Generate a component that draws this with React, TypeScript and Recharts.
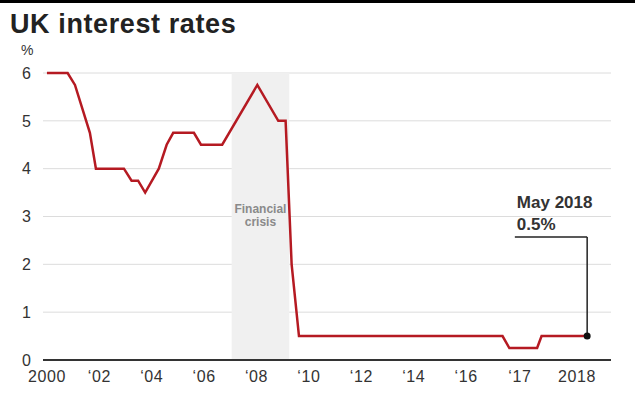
import React from "react";
import {
  LineChart,
  Line,
  XAxis,
  YAxis,
  CartesianGrid,
  ReferenceArea,
  ReferenceLine,
  ReferenceDot,
} from "recharts";

const ratePos = [
  2000.0, 2000.79, 2001.07, 2001.64, 2001.87, 2002.94, 2003.23, 2003.48,
  2003.75, 2004.27, 2004.57, 2004.82, 2005.61, 2005.88, 2006.69, 2008.03,
  2008.83, 2009.11, 2009.34, 2009.62, 2017.39, 2017.65, 2018.71, 2018.88,
  2020.62,
];
const rateValues = [
  6.0, 6.0, 5.75, 4.75, 4.0, 4.0, 3.75, 3.75, 3.5, 4.0, 4.5, 4.75, 4.75, 4.5,
  4.5, 5.75, 5.0, 5.0, 2.0, 0.5, 0.5, 0.25, 0.25, 0.5, 0.5,
];

const tickPos = [
  2000, 2002, 2004, 2006, 2008, 2010, 2012, 2014, 2016, 2018.05, 2020.23,
];
const tickLabels = [
  "2000", "\u201802", "\u201804", "\u201806", "\u201808", "\u201810",
  "\u201812", "\u201814", "\u201816", "\u201817", "2018",
];
const yTicks = [0, 1, 2, 3, 4, 5, 6];

const crisisStart = 2007.05;
const crisisEnd = 2009.25;
const calloutLevel = 2.57;
const calloutStart = 2017.86;

const data = ratePos.map((pos, i) => ({ pos, rate: rateValues[i] }));
const last = data[data.length - 1];

const FONT = "'Liberation Sans', Arial, Helvetica, sans-serif";
const RED = "#b51a22";

function CrisisLabel(props: any) {
  const { viewBox } = props;
  const cx = viewBox.x + viewBox.width / 2;
  return (
    <text
      x={cx}
      y={213}
      textAnchor="middle"
      fill="#8a8a8a"
      fontSize={12}
      fontWeight={700}
      fontFamily={FONT}
    >
      <tspan x={cx}>Financial</tspan>
      <tspan x={cx} dy={13}>
        crisis
      </tspan>
    </text>
  );
}

function CalloutLabel(props: any) {
  const { viewBox } = props;
  const x = viewBox.x + 2;
  const y = viewBox.y;
  return (
    <text
      x={x}
      y={y - 29}
      fill="#333"
      fontSize={17}
      fontWeight={700}
      fontFamily={FONT}
    >
      <tspan x={x}>May 2018</tspan>
      <tspan x={x} dy={22}>
        0.5%
      </tspan>
    </text>
  );
}

export default function App() {
  return (
    <div
      style={{
        position: "relative",
        width: 635,
        height: 395,
        background: "#fff",
        fontFamily: FONT,
      }}
    >
      <style>{`body{margin:0}`}</style>
      <div
        style={{
          position: "absolute",
          left: 0,
          top: 0,
          width: 635,
          height: 3,
          background: "#000",
        }}
      />
      <div
        style={{
          position: "absolute",
          left: 10,
          top: 11,
          fontSize: 27,
          lineHeight: "27px",
          fontWeight: 700,
          letterSpacing: 0.6,
          color: "#222",
        }}
      >
        UK interest rates
      </div>
      <div
        style={{
          position: "absolute",
          left: 21,
          top: 43,
          fontSize: 14,
          lineHeight: "14px",
          color: "#333",
        }}
      >
        %
      </div>
      <div style={{ position: "absolute", left: 0, top: 0 }}>
        <LineChart
          width={635}
          height={395}
          data={data}
          margin={{ top: 73, right: 24, bottom: 0, left: 0 }}
        >
          <ReferenceArea
            x1={crisisStart}
            x2={crisisEnd}
            y1={0}
            y2={6}
            fill="#f0f0f0"
            fillOpacity={1}
            stroke="none"
            label={CrisisLabel}
          />
          <CartesianGrid vertical={false} stroke="#dcdcdc" />
          <XAxis
            dataKey="pos"
            type="number"
            domain={[1999.85, 2021.53]}
            allowDataOverflow
            ticks={tickPos}
            tickFormatter={(v) => tickLabels[tickPos.indexOf(v)] ?? ""}
            height={35}
            tickLine={false}
            tickMargin={5}
            axisLine={{ stroke: "#333", strokeWidth: 2 }}
            tick={{
              fill: "#333",
              fontSize: 16,
              fontFamily: FONT,
              letterSpacing: 0.6,
            }}
            interval={0}
          />
          <YAxis
            type="number"
            domain={[0, 6]}
            ticks={yTicks}
            width={43}
            axisLine={false}
            tickLine={false}
            tickMargin={6}
            tick={{ fill: "#333", fontSize: 16, fontFamily: FONT }}
          />
          <ReferenceLine
            segment={[
              { x: calloutStart, y: calloutLevel },
              { x: last.pos, y: calloutLevel },
            ]}
            stroke="#222"
            strokeWidth={1.5}
            label={CalloutLabel}
          />
          <ReferenceLine
            segment={[
              { x: last.pos, y: calloutLevel },
              { x: last.pos, y: last.rate },
            ]}
            stroke="#222"
            strokeWidth={1.5}
          />
          <Line
            type="linear"
            dataKey="rate"
            stroke={RED}
            strokeWidth={2.5}
            dot={false}
            isAnimationActive={false}
          />
          <ReferenceDot
            x={last.pos}
            y={last.rate}
            r={3.5}
            fill="#111"
            stroke="none"
          />
        </LineChart>
      </div>
    </div>
  );
}
